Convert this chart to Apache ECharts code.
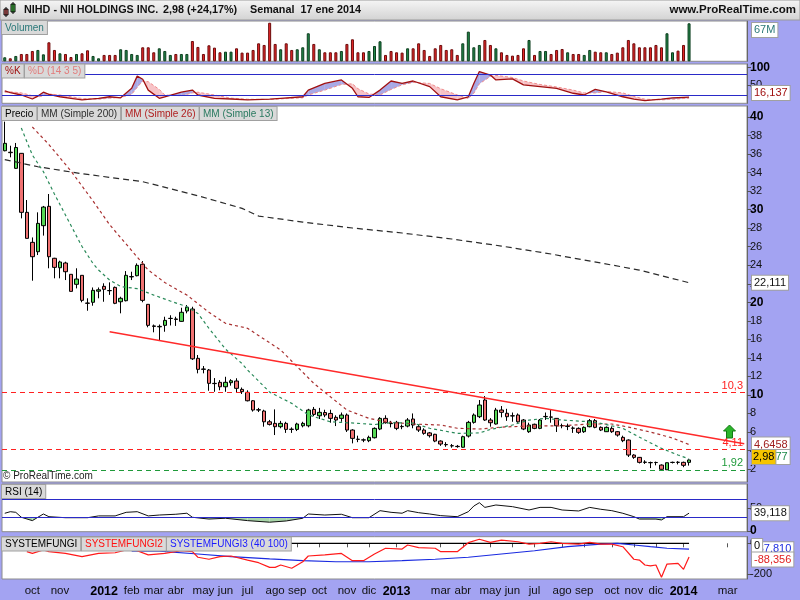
<!DOCTYPE html>
<html><head><meta charset="utf-8">
<script src="https://cdn.jsdelivr.net/npm/echarts@6/dist/echarts.min.js"></script>
<style>html,body{margin:0;padding:0;background:#a3a3f2;}#c{width:800px;height:600px;}</style>
</head><body><div id="c"></div>
<script>
// ---------- DATA ----------
const firstWeek = '2011-08-29';
const totalSlots = 135;
// candles: [open, close, low, high]
const candles = [
[36.36,37.16,36.3,39.5],[36.2,36.15,35.65,36.9],[34.46,36.71,34.4,37.2],[36.08,29.71,29.06,36.1],[29.71,26.9,26.9,31.04],
[26.47,24.92,22.33,27.0],[25.46,28.52,25.1,29.71],[28.27,30.28,27.2,30.4],[30.36,24.92,23.67,31.69],[24.75,23.77,22.59,24.8],
[23.73,24.35,22.59,24.49],[24.24,23.3,22.4,24.38],[23.02,21.18,21.18,23.02],[21.94,22.51,21.5,23.67],[22.91,20.21,20.0,22.91],
[19.92,19.89,19.09,20.43],[20.0,21.29,19.63,21.6],[21.2,21.35,20.43,21.6],[21.72,21.4,20.06,22.05],[21.27,21.25,20.8,22.15],
[21.61,19.89,19.8,21.7],[20.06,20.43,18.81,20.6],[20.17,22.91,20.1,23.37],[22.74,22.78,22.4,23.3],[22.87,23.99,22.8,24.2],
[24.1,20.21,20.0,24.45],[19.78,17.51,17.3,19.8],[17.45,17.4,16.76,17.6],[17.35,17.4,15.93,17.6],[17.51,18.05,16.82,18.44],
[18.25,18.27,17.5,18.6],[18.2,18.15,17.45,18.44],[17.94,18.92,17.9,19.41],[19.06,19.46,18.81,19.7],[19.27,13.9,13.77,19.52],
[13.95,12.76,12.33,14.31],[12.8,12.76,12.33,13.12],[12.69,11.25,10.45,12.8],[11.25,11.22,10.34,11.82],[11.36,10.88,10.5,11.6],
[10.88,11.36,10.34,11.96],[11.32,11.53,11.0,11.7],[11.5,10.71,10.24,11.8],[10.6,10.35,10.1,10.8],[10.28,9.37,9.3,10.5],
[9.37,8.37,8.2,9.45],[8.4,8.37,8.15,8.6],[8.26,7.1,6.57,8.4],[7.1,6.82,6.7,7.3],[6.93,6.57,5.67,8.44],
[6.57,6.93,6.4,7.2],[6.93,6.28,5.9,7.1],[6.3,6.28,5.9,6.5],[6.28,6.86,6.1,7.0],[6.67,6.93,6.5,7.1],
[6.67,8.37,6.5,8.5],[8.44,7.9,7.7,8.7],[7.75,8.12,7.4,8.6],[8.1,7.83,7.6,8.4],[8.0,7.47,7.0,8.4],
[7.58,7.29,6.64,7.8],[7.47,7.83,7.1,8.1],[7.83,6.21,6.0,8.0],[6.21,5.31,4.77,6.3],[5.22,5.2,4.9,5.6],
[5.15,5.13,4.9,5.3],[5.06,5.42,4.9,5.6],[5.38,6.39,5.3,6.5],[6.32,7.47,6.2,7.6],[7.47,7.0,6.9,7.8],
[6.93,6.9,6.5,7.2],[7.04,6.39,6.2,7.2],[6.6,6.57,6.3,6.8],[6.64,7.29,6.5,7.5],[7.4,6.75,6.4,8.0],
[6.57,6.21,6.0,6.8],[6.21,5.85,5.7,6.4],[5.9,5.6,5.4,6.0],[5.75,5.02,4.9,5.8],[5.02,4.7,4.5,5.1],
[4.65,4.62,4.4,4.9],[4.52,4.5,4.3,4.7],[4.45,4.42,4.3,4.6],[4.35,5.49,4.3,5.6],[5.56,7.04,5.4,7.2],
[7.04,7.83,6.9,8.0],[7.65,8.91,7.5,9.45],[9.45,7.29,7.2,9.88],[7.29,7.0,6.57,7.5],[6.86,8.37,6.8,8.6],
[8.37,8.12,7.58,8.8],[8.02,7.65,7.2,8.5],[7.75,7.73,7.1,8.1],[7.83,7.1,7.0,8.0],[7.29,6.32,6.2,7.4],
[6.03,6.75,5.9,7.0],[6.83,6.39,6.3,6.9],[6.39,7.29,6.3,7.4],[7.65,7.68,7.3,8.1],[7.62,7.6,7.0,8.37],
[7.47,6.67,6.0,7.5],[6.69,6.67,6.4,6.9],[6.6,6.64,6.2,6.9],[6.42,6.4,5.9,6.6],[6.39,5.96,5.8,6.5],
[6.03,6.5,5.9,6.6],[6.57,7.22,6.5,7.4],[7.22,6.5,6.4,7.4],[6.5,6.21,6.1,6.6],[6.03,6.5,6.0,6.6],
[6.39,6.03,5.9,6.6],[6.03,5.67,5.5,6.1],[5.42,5.06,4.9,5.6],[5.13,3.51,3.3,5.2],[3.51,3.26,3.1,3.6],
[3.26,2.72,2.6,3.3],[2.75,2.72,2.55,2.95],[2.7,2.68,2.1,2.8],[2.71,2.7,2.4,2.8],[2.43,1.97,1.95,2.5],
[1.92,2.68,1.92,2.7],[2.71,2.72,2.6,2.8],[2.73,2.72,2.5,2.85],[2.72,2.40,2.2,2.8],[2.72,2.98,2.37,3.05]
];
// weekly volume (millions)
const volumes = [
7.1,5.3,9.4,12.9,12.9,18.2,20.0,12.3,33.5,20.0,14.1,12.9,7.6,12.9,14.1,19.4,9.4,5.3,11.2,11.2,
11.2,21.2,20.0,12.9,11.2,24.7,24.7,15.9,22.9,18.2,11.2,12.9,12.9,12.9,35.8,25.3,12.9,28.2,24.1,15.9,
17.0,17.0,22.9,15.3,15.3,20.0,31.7,28.8,68.0,30.6,21.2,31.7,20.0,21.2,24.7,49.4,30.6,21.2,15.9,15.9,
15.9,18.2,30.6,38.8,15.9,15.9,18.2,27.0,35.3,11.2,18.2,15.9,15.3,22.9,22.9,31.7,20.0,9.4,22.9,28.8,
20.0,21.2,11.2,31.7,52.3,24.7,28.8,37.6,28.8,22.9,15.9,11.2,10.0,11.2,22.9,37.6,11.2,18.2,18.2,12.9,
20.0,21.7,15.9,12.9,12.9,11.2,20.0,17.0,15.9,15.9,12.9,15.3,24.7,37.6,31.7,24.7,24.7,24.7,28.8,24.7,
49.4,15.9,18.8,28.8,67.0
];
// moving averages: [week index, value]
const ma200 = [[0,35.41],[6,34.63],[14,33.88],[25,33.02],[35,31.5],[43,30.14],[46,29.31],[54,28.66],[63,28.02],[72,27.48],[81,26.83],[90,26.07],[99,25.21],[108,24.24],[115,23.48],[124,22.111]];
const ma26 = [[5,38.92],[8,37.03],[12,34.17],[16,30.93],[19,28.38],[23,25.58],[26,23.48],[29,22.13],[33,20.78],[37,18.92],[40,17.73],[44,17.19],[50,14.85],[56,11.25],[59,9.8],[62,8.37],[66,7.47],[69,7.1],[74,6.86],[79,6.75],[82,6.4],[86,6.32],[90,6.53],[95,6.64],[101,6.67],[106,6.86],[110,6.86],[113,6.53],[117,5.99],[121,5.35],[124,4.6458]];
const ma13 = [[3,38.81],[5,35.9],[7,34.1],[9,31.69],[11,29.42],[14,26.02],[16,24.18],[17,23.48],[19,22.4],[21,21.7],[24,21.47],[27,20.78],[30,20.14],[33,19.52],[35,18.8],[37,17.19],[40,14.95],[43,13.38],[44,12.69],[48,10.3],[52,9.09],[55,7.85],[58,7.29],[59,7.1],[64,6.93],[67,6.8],[70,7.0],[74,6.95],[77,6.4],[82,5.85],[86,5.9],[88,6.27],[92,6.75],[95,7.29],[98,7.47],[101,7.29],[106,7.1],[108,6.93],[112,6.39],[116,5.13],[119,4.23],[122,3.51],[124,3.0877]];
// horizontal levels and trend line
const levels = [10.3, 4.11, 1.92];
const trendLine = [[19,16.82],[134,4.73]];
// stochastic (14 3 5)
const stochIdx = [0,1,3,5,6,7,8,10,12,14,17,19,21,23,24,25,26,28,29,32,34,35,38,41,44,48,50,54,55,58,61,63,64,66,68,70,72,74,77,79,82,84,85,86,88,89,92,94,97,100,103,105,107,109,112,114,116,119,121,124];
const stochK = [34,29,22,10.6,19,30,24,17,12.6,8,12.6,17,14,41,76,67,36,12.6,17,30,36,22,12.6,10.6,8,10,12.6,17,36,55,65,41,17,15,36,62,55,62,46,17,8,17,55,89,79,65,68,51,46,41,27,22,38,31,17,10,6,10,14,16.137];
const stochD = [30,31,28,20,16,20,25,22,17,12,10,13,15,24,44,62,60,38,22,20,28,30,22,13,10,9,11,14,22,36,52,54,40,25,22,38,51,58,55,40,22,12,27,54,75,78,72,62,52,45,36,28,28,32,28,18,10,8,10,13];
// RSI (14)
const rsiIdx = [0,1,2,3,5,6,7,8,11,15,17,20,22,24,26,28,31,33,34,37,40,44,48,51,54,55,58,61,63,66,68,70,72,73,75,77,79,82,84,85,86,87,89,92,95,97,99,101,104,106,108,110,112,114,115,118,119,120,123,124];
const rsiVal = [38.9,42.4,41,30,22.5,30,37.3,31.3,29,29,33,33,41,42.4,33,35,36.7,39,30,26,27.8,22.5,19,21.8,27.8,37.3,35,36.7,29,29,44.7,41,39,44.7,40.2,37.3,33.6,31.3,42.4,55,62.4,52,57.3,53.6,46.2,52,52,46.2,44,52,47.8,44.7,38.9,31.3,26,26,24,31.3,31.3,39.118];
// SYSTEMFUNGI2 (red) and SYSTEMFUNGI3 (blue)
const sf2Idx = [4,5,7,8,11,14,17,20,22,23,26,29,32,34,35,37,39,41,44,46,48,49,50,52,53,54,55,58,61,63,65,67,69,72,73,75,78,79,82,84,86,88,90,93,95,97,99,101,104,106,108,110,112,114,115,116,117,118,119,120,122,123,124];
const sf2Val = [-54,-65,-43,-54,-65,-86,-65,-61,-43,-35,-75,-65,-48,-54,-90,-103,-86,-82,-108,-125,-155,-155,-140,-161,-140,-119,-82,-75,-65,-112,-112,-69,-32,-37,-11,-28,-32,-54,-54,4,26,6,21,10,-5,0,10,0,-5,6,-5,-5,-22,-103,-108,-140,-146,-140,-219,-134,-129,-168,-88.356];
const sf3Idx = [23,28,35,41,48,54,60,66,72,78,84,90,96,102,108,111,114,117,120,124];
const sf3Val = [-50,-50,-69,-86,-101,-112,-119,-119,-112,-103,-90,-69,-48,-22,-5,0,-11,-22,-32,-37.81];
const sfZero = [[0,0],[124,0]];
// axis ticks
const priceTicks = [2,4,6,8,10,12,14,16,18,20,22,24,26,28,30,32,34,36,38,40];
const stochTicks = [50,100];
const rsiTicks = [0,50];
const sfTicks = [-200,0];
const tickMonths = ['2011-10','2011-11','2012-01','2012-02','2012-03','2012-04','2012-05','2012-06','2012-07','2012-08','2012-09','2012-10','2012-11','2012-12','2013-01','2013-03','2013-04','2013-05','2013-06','2013-07','2013-08','2013-09','2013-10','2013-11','2013-12','2014-01','2014-03'];
const tickTexts = ['oct','nov','2012','feb','mar','abr','may','jun','jul','ago','sep','oct','nov','dic','2013','mar','abr','may','jun','jul','ago','sep','oct','nov','dic','2014','mar'];

// ---------- BUILD ----------
const FONT = "'Liberation Sans', Arial, sans-serif";
const weeks = [];
const t0 = Date.parse(firstWeek + 'T00:00:00Z');
for (let i = 0; i < totalSlots; i++) weeks.push(new Date(t0 + i * 7 * 86400000).toISOString().slice(0, 10));
const labelByDate = {};
for (let i = 0; i < weeks.length; i++) {
  const ym = weeks[i].slice(0, 7);
  if (i > 0 && weeks[i - 1].slice(0, 7) !== ym) {
    const k = tickMonths.indexOf(ym);
    if (k >= 0) labelByDate[weeks[i]] = tickTexts[k];
  }
}
const pairs = (idx, val) => idx.map((x, i) => [x, val[i]]);

const L = 2, R = 53;
const grids = [
  {top: 21, height: 40.3},
  {top: 64, height: 39.3},
  {top: 106, height: 376},
  {top: 484, height: 47.7},
  {top: 536.7, height: 42.3}
].map(g => Object.assign({left: L, right: R, show: true, backgroundColor: '#fff', borderColor: '#8c8c8c', borderWidth: 1}, g));

const xAxes = grids.map((g, i) => ({
  type: 'category', gridIndex: i, data: weeks, boundaryGap: true,
  axisLine: {show: false},
  axisTick: i === 4 ? {show: true, alignWithLabel: true, length: 4, lineStyle: {color: '#555'},
    interval: (idx, v) => labelByDate[v] !== undefined} : {show: false},
  axisLabel: i === 4 ? {show: true, margin: 6, fontSize: 11.5, color: '#111', fontFamily: FONT,
    interval: (idx, v) => labelByDate[v] !== undefined,
    formatter: v => { const t = labelByDate[v] || ''; return /^\d+$/.test(t) ? '{y|' + t + '}' : t; },
    rich: {y: {fontWeight: 'bold', fontSize: 12.5, color: '#000', fontFamily: FONT}}} : {show: false},
  splitLine: {show: false}
}));

function yAx(i, min, max, ticks, boldFn) {
  return {
    type: 'value', gridIndex: i, position: 'right', min, max,
    axisLine: {show: true, lineStyle: {color: '#666'}},
    axisTick: ticks ? {show: true, customValues: ticks, length: 4, lineStyle: {color: '#555'}} : {show: false},
    axisLabel: ticks ? {show: true, customValues: ticks, margin: 3, fontSize: 11, color: '#111', fontFamily: FONT,
      formatter: v => boldFn && boldFn(v) ? '{b|' + v + '}' : String(v),
      rich: {b: {fontWeight: 'bold', fontSize: 12, color: '#000', fontFamily: FONT}}} : {show: false},
    splitLine: {show: false}
  };
}
const yAxes = [
  yAx(0, 0, 71.05, null),
  yAx(1, -1.7, 110.6, stochTicks, v => v === 100),
  yAx(2, 0.6, 41.19, priceTicks, v => v % 10 === 0),
  yAx(3, -2.1, 104, rsiTicks, v => v === 0),
  yAx(4, -230.3, 42.6, sfTicks, null)
];

function fillRenderer(idxArr, aArr, bArr, colA, colB) {
  return function (params, api) {
    const i = params.dataIndex;
    if (i >= idxArr.length - 1) return null;
    const a0 = api.coord([idxArr[i], aArr[i]]), a1 = api.coord([idxArr[i + 1], aArr[i + 1]]);
    const b0 = api.coord([idxArr[i], bArr[i]]), b1 = api.coord([idxArr[i + 1], bArr[i + 1]]);
    const d0 = aArr[i] - bArr[i], d1 = aArr[i + 1] - bArr[i + 1];
    const children = [];
    const poly = (pts, c) => { if (c) children.push({type: 'polygon', shape: {points: pts}, style: {fill: c}}); };
    if (d0 * d1 < 0) {
      const t = d0 / (d0 - d1);
      const c = [a0[0] + t * (a1[0] - a0[0]), a0[1] + t * (a1[1] - a0[1])];
      poly([a0, c, b0], d0 > 0 ? colA : colB);
      poly([c, a1, b1], d1 > 0 ? colA : colB);
    } else {
      poly([a0, a1, b1, b0], (d0 + d1) > 0 ? colA : colB);
    }
    return {type: 'group', children};
  };
}

const upVol = {color: '#22884a', borderColor: '#0d3d1e', borderWidth: 1};
const dnVol = {color: '#e8282a', borderColor: '#6a0a0a', borderWidth: 1};
const lvlColors = ['#ff2020', '#ff2020', '#1f9a3a'];
const rsi30 = rsiIdx.map(() => 30);

const series = [
  {type: 'bar', xAxisIndex: 0, yAxisIndex: 0, barWidth: 3, silent: true,
    data: volumes.map((v, i) => ({value: v, itemStyle: candles[i][1] >= candles[i][0] ? upVol : dnVol}))},
  {type: 'custom', xAxisIndex: 1, yAxisIndex: 1, silent: true, clip: true,
    renderItem: fillRenderer(stochIdx, stochK, stochD, 'rgba(140,140,220,0.75)', 'rgba(245,180,185,0.8)'),
    data: pairs(stochIdx, stochK), z: 1},
  {type: 'line', xAxisIndex: 1, yAxisIndex: 1, data: pairs(stochIdx, stochD), symbol: 'none', silent: true,
    lineStyle: {color: '#f08c8c', width: 1, type: [3, 2]}, z: 2},
  {type: 'line', xAxisIndex: 1, yAxisIndex: 1, data: pairs(stochIdx, stochK), symbol: 'none', silent: true,
    lineStyle: {color: '#a01010', width: 1.3}, z: 3,
    markLine: {silent: true, symbol: ['none', 'none'], label: {show: false},
      lineStyle: {color: '#2a2ac8', width: 1, type: 'solid'}, data: [{yAxis: 80}, {yAxis: 20}]}},
  {type: 'candlestick', xAxisIndex: 2, yAxisIndex: 2, data: candles, barWidth: 4, silent: true,
    itemStyle: {color: '#55d855', color0: '#f07272', borderColor: '#000', borderColor0: '#000', borderColorDoji: '#000', borderWidth: 1},
    markLine: {silent: true, symbol: ['none', 'none'],
      data: levels.map((v, k) => ({yAxis: v, lineStyle: {color: lvlColors[k], width: 1, type: [5, 4]},
        label: {show: true, position: 'insideEndTop', formatter: String(v).replace('.', ','), color: lvlColors[k], fontSize: 11, fontFamily: FONT, distance: [4, 1]}}))
        .concat([[{coord: trendLine[0], lineStyle: {color: '#ff2a2a', width: 1.3, type: 'solid'}, label: {show: false}}, {coord: trendLine[1]}]])}},
  {type: 'line', xAxisIndex: 2, yAxisIndex: 2, data: ma200, symbol: 'none', silent: true, lineStyle: {color: '#2a2a2a', width: 1.2, type: [6, 4]}},
  {type: 'line', xAxisIndex: 2, yAxisIndex: 2, data: ma26, symbol: 'none', silent: true, lineStyle: {color: '#a83030', width: 1.2, type: [3, 3]}},
  {type: 'line', xAxisIndex: 2, yAxisIndex: 2, data: ma13, symbol: 'none', silent: true, lineStyle: {color: '#2a8a5a', width: 1.2, type: [3, 3]}},
  {type: 'custom', xAxisIndex: 3, yAxisIndex: 3, silent: true, clip: true,
    renderItem: fillRenderer(rsiIdx, rsiVal, rsi30, null, '#a9d6a9'), data: pairs(rsiIdx, rsiVal), z: 1},
  {type: 'line', xAxisIndex: 3, yAxisIndex: 3, data: pairs(rsiIdx, rsiVal), symbol: 'none', silent: true,
    lineStyle: {color: '#111', width: 1}, z: 3,
    markLine: {silent: true, symbol: ['none', 'none'], label: {show: false},
      lineStyle: {color: '#2a2ac8', width: 1, type: 'solid'}, data: [{yAxis: 70}, {yAxis: 30}]}},
  {type: 'line', xAxisIndex: 4, yAxisIndex: 4, data: sfZero, symbol: 'none', silent: true, lineStyle: {color: '#000', width: 1.2}},
  {type: 'line', xAxisIndex: 4, yAxisIndex: 4, data: pairs(sf3Idx, sf3Val), symbol: 'none', silent: true, lineStyle: {color: '#1a2ae0', width: 1.2}},
  {type: 'line', xAxisIndex: 4, yAxisIndex: 4, data: pairs(sf2Idx, sf2Val), symbol: 'none', silent: true, lineStyle: {color: '#ff1a1a', width: 1.2}}
];

const chart = echarts.init(document.getElementById('c'), null, {renderer: 'canvas'});
chart.setOption({
  animation: false,
  backgroundColor: '#a3a3f2',
  textStyle: {fontFamily: FONT},
  grid: grids, xAxis: xAxes, yAxis: yAxes, series
});

// ---------- CHROME & TAGS ----------
const fmt = v => String(v).replace('.', ',');
const LABEL_FONT = '10px ' + FONT;
const mctx = document.createElement('canvas').getContext('2d');
mctx.font = LABEL_FONT;
const els = [];
function boxRow(x, y, items) {
  items.forEach(([text, color]) => {
    els.push({type: 'text', x, y, z: 100,
      style: {text, fill: color, font: LABEL_FONT, backgroundColor: '#d9d9d9',
        borderColor: '#a0a0a0', borderWidth: 1, padding: [2, 3, 1, 3]}});
    x += Math.ceil(mctx.measureText(text).width) + 7;
  });
}
els.push({type: 'rect', z: 90, shape: {x: 0, y: 0, width: 800, height: 20},
  style: {fill: new echarts.graphic.LinearGradient(0, 0, 0, 1, [{offset: 0, color: '#f6f6f6'}, {offset: 1, color: '#d2d2d2'}]), stroke: '#9a9a9a'}});
els.push({type: 'rect', z: 95, shape: {x: 4, y: 9, width: 4, height: 6}, style: {fill: '#f07272', stroke: '#000', lineWidth: 1}});
els.push({type: 'line', z: 95, shape: {x1: 6, y1: 7, x2: 6, y2: 17}, style: {stroke: '#000'}});
els.push({type: 'rect', z: 95, shape: {x: 11, y: 4, width: 4, height: 8}, style: {fill: '#55d855', stroke: '#000', lineWidth: 1}});
els.push({type: 'line', z: 95, shape: {x1: 13, y1: 2, x2: 13, y2: 14}, style: {stroke: '#000'}});
const titleFont = 'bold 10.8px ' + FONT;
els.push({type: 'text', z: 100, x: 24, y: 10, style: {text: 'NIHD - NII HOLDINGS INC.', font: titleFont, fill: '#111', verticalAlign: 'middle'}});
els.push({type: 'text', z: 100, x: 163, y: 10, style: {text: '2,98 (+24,17%)', font: titleFont, fill: '#111', verticalAlign: 'middle'}});
els.push({type: 'text', z: 100, x: 250, y: 10, style: {text: 'Semanal  17 ene 2014', font: titleFont, fill: '#111', verticalAlign: 'middle'}});
els.push({type: 'text', z: 100, x: 796, y: 10, style: {text: 'www.ProRealTime.com', font: 'bold 11.5px ' + FONT, fill: '#111', align: 'right', verticalAlign: 'middle'}});

boxRow(2, 21, [['Volumen', '#2a7878']]);
boxRow(2, 64.5, [['%K', '#a01010'], ['%D (14 3 5)', '#e27c7c']]);
boxRow(2, 107, [['Precio', '#000'], ['MM (Simple 200)', '#303030'], ['MM (Simple 26)', '#b02020'], ['MM (Simple 13)', '#2a7a60']]);
boxRow(2, 485, [['RSI (14)', '#000']]);
boxRow(2, 537.5, [['SYSTEMFUNGI', '#000'], ['SYSTEMFUNGI2', '#ff1010'], ['SYSTEMFUNGI3 (40 100)', '#1a1aff']]);
els.push({type: 'text', z: 100, x: 3, y: 476, style: {text: '\u00a9 ProRealTime.com', font: '10px ' + FONT, fill: '#222', verticalAlign: 'middle'}});

// green alert arrow
els.push({type: 'polygon', z: 100, shape: {points: [[729.5, 425], [735.5, 431], [732.5, 431], [732.5, 438], [726.5, 438], [726.5, 431], [723.5, 431]]},
  style: {fill: '#2bb52b', stroke: '#137a13', lineWidth: 1}});

function tag(axis, value, text, color, bg, minY, maxY, pad) {
  let y = chart.convertToPixel({yAxisIndex: axis}, value);
  if (minY !== undefined) y = Math.max(y, minY);
  if (maxY !== undefined) y = Math.min(y, maxY);
  els.push({type: 'text', z: 110, x: 752, y, style: {text, fill: color, font: '11px ' + FONT, verticalAlign: 'middle',
    backgroundColor: bg || '#fff', borderColor: '#a0a0a0', borderWidth: 1, padding: pad || [2, 2, 1, 2]}});
}
tag(0, volumes[volumes.length - 1], Math.round(volumes[volumes.length - 1]) + 'M', '#2a7878', '#fff', 30);
tag(1, stochK[stochK.length - 1], fmt(stochK[stochK.length - 1]), '#a01010', '#fff', undefined, 93);
tag(2, ma200[ma200.length - 1][1], fmt(ma200[ma200.length - 1][1]), '#111');
tag(2, ma26[ma26.length - 1][1], fmt(ma26[ma26.length - 1][1]), '#a02020');
tag(2, ma13[ma13.length - 1][1], fmt(ma13[ma13.length - 1][1]), '#1f8a4a', '#fff', undefined, 457);
tag(2, candles[candles.length - 1][1], fmt(candles[candles.length - 1][1]), '#000', '#f5c400', undefined, 457, [2, 1, 1, 1]);
tag(3, rsiVal[rsiVal.length - 1], fmt(rsiVal[rsiVal.length - 1]), '#111');
tag(4, sf3Val[sf3Val.length - 1], fmt(sf3Val[sf3Val.length - 1]) + '0', '#1a2ae0');
tag(4, 0, '0', '#000', '#fff', 546);
tag(4, sf2Val[sf2Val.length - 1], fmt(sf2Val[sf2Val.length - 1]), '#e02020', '#fff', 559.5);

chart.setOption({graphic: {elements: els}});
</script>
</body></html>
